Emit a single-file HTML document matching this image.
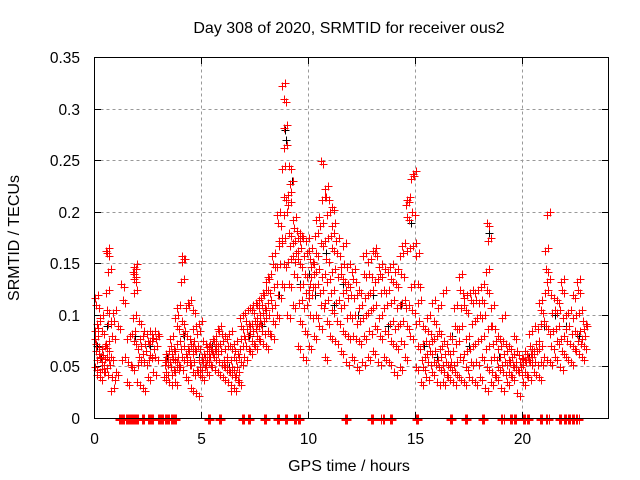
<!DOCTYPE html>
<html><head><meta charset="utf-8"><style>
body{margin:0;background:#fff}
svg{display:block;font-family:"Liberation Sans",sans-serif}
</style></head><body>
<svg id="chart" width="640" height="480" shape-rendering="crispEdges">
<text x="349" y="33" font-size="16" text-anchor="middle" fill="#000">Day 308 of 2020, SRMTID for receiver ous2</text>
<text x="349" y="471" font-size="16" text-anchor="middle">GPS time / hours</text>
<text transform="translate(19,238) rotate(-90)" font-size="16" text-anchor="middle">SRMTID / TECUs</text>
<g id="grid"></g><g id="ticks"></g><g id="black"></g><g id="red"></g>
<rect x="94.5" y="57.5" width="514" height="361" fill="none" stroke="#000"/>
</svg>
<script>
const xTicks=[0,5,10,15,20];
const yTicks=[0,0.05,0.1,0.15,0.2,0.25,0.3,0.35];
const yTickLabels=["0","0.05","0.1","0.15","0.2","0.25","0.3","0.35"];
const binHours=0.25;
const redBins=[
[50,65,80,95,110,120,60,72,88,45],[40,55,62,70,85,100,58,48],[45,60,75,95,105,125,145,160,165,52,68],[60,80,95,105,40,30],
[45,90],[130,115,60],[35,55,80],[50,75,100,125,135,145,150,140,85],
[35,60,70,80,95,55],[30,55,65,75,85],[40,62,75,78,85,60],[45,60,70,80,85],
[],[40,45,55,65,55,60],[35,50,58,65,70,80,45],[35,50,60,75,90,100,110,55],
[50,60,70,85,95,135,155,158],[40,55,65,70,80,110,115,60],[30,45,55,65,70,75,90,105],[25,45,50,60,70,85,95],
[40,55,60,65,75,50],[45,55,60,65,70,72],[50,60,65,70,75,80],[45,55,65,75,85,90],
[40,50,60,70,80,55],[35,45,50,60,70,85,30],[30,40,50,60,65,75,45],[35,55,70,80,90,100],
[60,70,80,90,95,105],[65,75,85,95,105,110],[70,80,90,100,110,115,95],[75,85,95,105,110,120,125],
[70,85,100,115,125,135,140],[80,95,110,130,150,160],[100,120,150,170,190,200,175],[130,150,175,200,215,245,265,310,325,285],
[100,130,155,170,180,210,230,245,220],[110,140,160,175,185,195,155],[70,95,115,130,150,165,175,180],[60,85,110,125,140,160,175],
[70,100,120,140,155,165,150,130],[80,100,130,145,160,180,195],[90,110,125,140,170,190,215,250],[60,95,115,135,155,175,200,215,225],
[80,105,125,145,165,180,190,205],[75,95,115,140,160,175],[65,85,110,125,135,150,170],[55,80,100,120,130,150],
[60,80,100,120,135,145],[50,75,95,110,125],[55,80,100,120,140,160],[60,85,105,125,140,155],
[65,90,110,135,160,165],[55,80,100,125,140,150],[60,85,110,125,145],[55,75,95,115,135,150],
[45,70,90,110,130,145],[50,75,95,115,140,160,170],[60,90,110,165,195,210,215],[80,105,130,170,200,235,240],
[50,70,95,115,130,160],[35,50,60,75,90],[40,55,65,75,85,100],[45,55,65,80,95,115],
[35,50,60,70,85,110],[35,45,55,65,75,125],[40,50,55,65,80],[35,45,55,75,90,110],
[40,60,90,110,125,140],[35,50,65,80,105,120],[40,55,70,95,115,125],[35,55,75,100,115,125],
[40,60,80,100,115,130],[30,50,70,90,125,145,175,190],[35,45,60,75,90,110],[40,50,60,70,80],
[30,45,55,65,75,100],[35,45,55,60,70],[40,50,55,65,80],[25,45,50,58,62],
[35,45,55,60,65],[40,55,60,65,70,85],[45,55,65,75,90],[40,55,70,95,105,115],
[60,90,125,135,145,165,200],[55,70,85,105,120],[60,75,90,105,115],[50,65,80,100,125,135],
[60,75,90,105],[55,70,85,100,120],[65,75,85,105,125,135],[60,70,80,90,95]];
const zeroTimes=[1.15,1.25,1.35,1.45,1.55,1.65,1.75,1.85,1.95,2.2,2.5,2.65,2.95,3.1,3.3,3.4,3.55,3.7,5.3,5.8,6.9,7.15,7.9,8.5,8.9,9.3,9.5,11.7,12.9,13.4,13.8,15.0,16.6,17.3,18.1,19.0,19.4,19.6,20.0,20.2,20.8,21.1,21.7,21.9,22.1,22.3,22.5];
const blackT=[0.1,0.3,0.6,1.9,2.6,3.4,4.2,4.9,5.5,6.3,7.2,7.8,8.6,8.9,8.95,9.2,9.6,10.0,10.3,10.8,11.2,11.6,12.3,13.0,13.7,14.3,14.8,15.4,16.0,16.7,17.5,18.0,18.4,18.9,19.6,20.3,21.0,21.5,22.0,22.6];
const blackV=[0.07,0.06,0.09,0.08,0.07,0.06,0.08,0.06,0.07,0.05,0.08,0.09,0.12,0.28,0.27,0.23,0.13,0.14,0.12,0.16,0.11,0.13,0.10,0.12,0.09,0.11,0.19,0.07,0.06,0.08,0.07,0.10,0.18,0.06,0.05,0.06,0.09,0.10,0.09,0.08];
const X=t=>94.5+t*514/24, Y=v=>418.5-v*361/0.35;
const NS="http://www.w3.org/2000/svg";
function mk(tag,attrs,parent){const e=document.createElementNS(NS,tag);for(const k in attrs)e.setAttribute(k,attrs[k]);parent.appendChild(e);return e;}
const grid=document.getElementById('grid'),ticks=document.getElementById('ticks');
xTicks.forEach(t=>{
 const xp=Math.round(X(t)-0.5)+0.5;
 if(t>0){const g=mk('line',{x1:xp,x2:xp,y1:57.5,y2:418.5,stroke:'#999','stroke-dasharray':'3,3'},grid);
 
 }
 mk('line',{x1:xp,x2:xp,y1:418.5,y2:412,stroke:'#000'},ticks);
 mk('line',{x1:xp,x2:xp,y1:57.5,y2:64,stroke:'#000'},ticks);
 const l=mk('text',{x:xp,y:444,'font-size':15.5,'text-anchor':'middle','shape-rendering':'auto'},ticks);l.textContent=t;
 
 
});
yTicks.forEach((v,i)=>{
 const yp=Math.round(Y(v)-0.5)+0.5;
 if(v>0&&v<0.35){const g=mk('line',{x1:94.5,x2:608.5,y1:yp,y2:yp,stroke:'#999','stroke-dasharray':'3,3'},grid);
 
 }
 mk('line',{x1:94.5,x2:101,y1:yp,y2:yp,stroke:'#000'},ticks);
 mk('line',{x1:608.5,x2:602,y1:yp,y2:yp,stroke:'#000'},ticks);
 const l=mk('text',{x:80,y:yp+5.5,'font-size':15.5,'text-anchor':'end'},ticks);l.textContent=yTickLabels[i];
 
 
});
function plus(x,y,c,parent){x=Math.round(x)+0.5;y=Math.round(y)+0.5;return mk('path',{d:`M${x-4},${y}h8M${x},${y-4}v8`,stroke:c,'stroke-width':1,fill:'none'},parent);}
const bg=document.getElementById('black'),rg=document.getElementById('red');
blackT.forEach((t,i)=>{const p=plus(X(t),Y(blackV[i]),'#000',bg);
 
 });
redBins.forEach((vals,b)=>{vals.forEach((v,j)=>{
 [0,0.11].forEach(off=>{
 const t=b*binHours+(((j*0.083)+off)%binHours);
 const p=plus(X(t),Y(v/1000)+(off?3:0),'#f00',rg);
 
 });});});
zeroTimes.forEach(t=>{[0,0.05,0.1].forEach(d=>{[-1,0,1].forEach(dy=>{const p=plus(X(t+d),Y(0)+dy,'#f00',rg);
 
 });});});
</script>
</body></html>
